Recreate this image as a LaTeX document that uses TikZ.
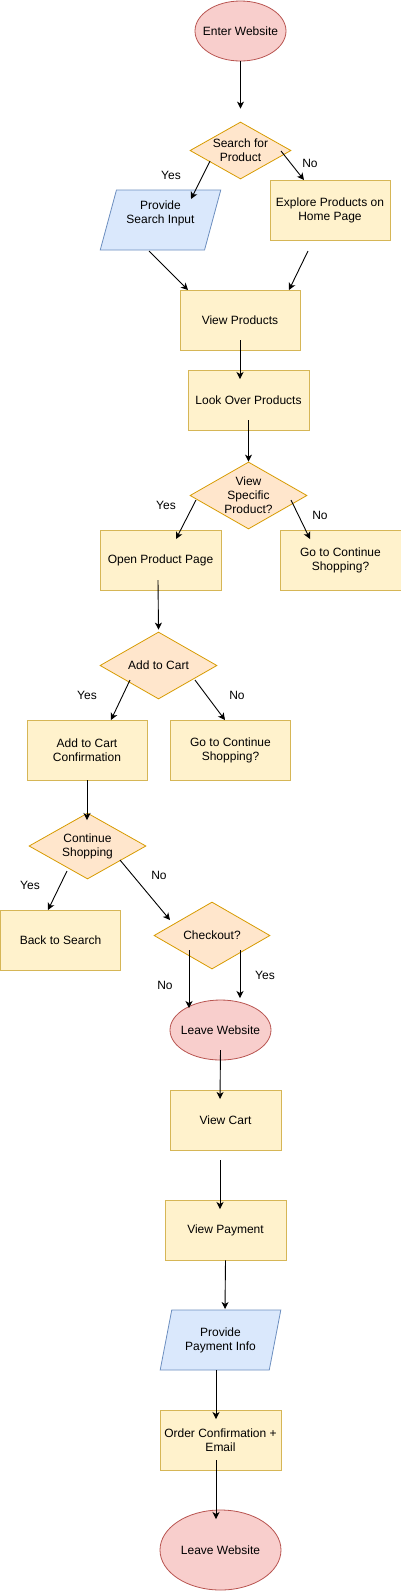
\documentclass[tikz,border=0pt]{standalone}
\usepackage{fontspec}
\setmainfont{Liberation Sans}
\usetikzlibrary{arrows.meta,shapes.geometric}
\definecolor{shopRedFill}{HTML}{F8CECC}
\definecolor{shopRedLine}{HTML}{B85450}
\definecolor{shopOrangeFill}{HTML}{FFE6CC}
\definecolor{shopOrangeLine}{HTML}{D79B00}
\definecolor{shopYellowFill}{HTML}{FFF2CC}
\definecolor{shopYellowLine}{HTML}{D6B656}
\definecolor{shopBlueFill}{HTML}{DAE8FC}
\definecolor{shopBlueLine}{HTML}{6C8EBF}
\tikzset{
  shop text/.style={font=\fontsize{12}{14}\selectfont, align=center, text=black},
  shop end/.style={shop text, ellipse, draw=shopRedLine, fill=shopRedFill, line width=0.8pt, inner sep=-8pt},
  shop box/.style={shop text, rectangle, draw=shopYellowLine, fill=shopYellowFill, line width=0.8pt, minimum width=120pt, minimum height=60pt, inner sep=0pt},
  shop choice/.style={shop text, diamond, draw=shopOrangeLine, fill=shopOrangeFill, line width=0.8pt, inner sep=-8pt, minimum width=117pt, minimum height=67pt},
  shop input/.style={shop text, trapezium, trapezium left angle=71.6, trapezium right angle=108.4, trapezium stretches=true, draw=shopBlueLine, fill=shopBlueFill, line width=0.8pt, minimum width=121pt, minimum height=60pt, inner sep=0pt},
  shop arrow/.style={draw=black, line width=0.9pt, -{Stealth[length=7pt,width=7pt,inset=2pt]}},
  shop label/.style={font=\fontsize{12}{14}\selectfont},
}
\begin{document}
\begin{tikzpicture}[x=1pt,y=-1pt]
  \useasboundingbox (0,0) rectangle (401,1591);
  % steps of the flow
  \node[shop end, minimum width=91pt, minimum height=60pt] (enter) at (240.5,31) {Enter Website};
  \node[shop choice, minimum width=101pt, minimum height=57pt] (search) at (240.5,150.5) {Search for\\Product};
  \node[shop input, text depth=15pt] (provide) at (160.5,220) {Provide\\Search Input};
  \node[shop box] (explore) at (330,210) {Explore Products on\\Home Page};
  \node[shop box] (viewprod) at (240,320) {View Products};
  \node[shop box, minimum width=121pt] (lookover) at (248.5,400) {Look Over Products};
  \node[shop choice] (specific) at (248.5,495.5) {View\\Specific\\Product?};
  \node[shop box, minimum width=121pt] (openpage) at (160.5,560) {Open Product Page};
  \node[shop box, minimum width=121pt] (gocontA) at (340.5,560) {Go to Continue\\Shopping?};
  \node[shop choice] (addcart) at (158.5,665.5) {Add to Cart};
  \node[shop box] (confirm) at (87,750) {Add to Cart\\Confirmation};
  \node[shop box] (gocontB) at (230.5,750) {Go to Continue\\Shopping?};
  \node[shop choice, minimum height=66pt] (contshop) at (87.5,846) {Continue\\Shopping};
  \node[shop box] (backsearch) at (60.5,940) {Back to Search};
  \node[shop choice, minimum width=116pt] (checkout) at (212,935.5) {Checkout?};
  \node[shop end, minimum width=101pt, minimum height=60pt] (leaveA) at (220.5,1030) {Leave Website};
  \node[shop box, minimum width=111pt] (viewcart) at (225.5,1120) {View Cart};
  \node[shop box, minimum width=121pt] (viewpay) at (225.5,1230) {View Payment};
  \node[shop input] (payinfo) at (220.5,1340) {Provide\\Payment Info};
  \node[shop box, minimum width=121pt] (order) at (220.5,1440) {Order Confirmation +\\Email};
  \node[shop end, minimum width=121pt, minimum height=80pt] (leaveB) at (220.5,1550) {Leave Website};
  % answers
  \node[shop label] (yesA) at (171,175) {Yes};
  \node[shop label] (noA) at (310,163) {No};
  \node[shop label] (yesB) at (166,505) {Yes};
  \node[shop label] (noB) at (320,515) {No};
  \node[shop label] (yesC) at (87,695) {Yes};
  \node[shop label] (noC) at (237,695) {No};
  \node[shop label] (yesD) at (30,885) {Yes};
  \node[shop label] (noD) at (159,875) {No};
  \node[shop label] (noE) at (165,985) {No};
  \node[shop label] (yesE) at (265,975) {Yes};
  % connectors
  \draw[shop arrow] (enter.south) -- ([yshift=13pt]search.north);
  \draw[shop arrow] ([shift={(-30.5,10.5)}]search.center) -- ([shift={(30.5,-21)}]provide.center);
  \draw[shop arrow] ([shift={(40.5,0.5)}]search.center) -- ([shift={(-26,-30)}]explore.center);
  \draw[shop arrow] ([shift={(-11.5,31)}]provide.center) -- ([shift={(-52,-30)}]viewprod.center);
  \draw[shop arrow] ([shift={(-22,41)}]explore.center) -- ([shift={(49,-30)}]viewprod.center);
  \draw[shop arrow] ([shift={(0,20)}]viewprod.center) -- ([shift={(-8.5,-21)}]lookover.center);
  \draw[shop arrow] ([shift={(0,20)}]lookover.center) -- (specific.north);
  \draw[shop arrow] ([shift={(-52.5,4.5)}]specific.center) -- ([shift={(15.5,-21)}]openpage.center);
  \draw[shop arrow] ([shift={(42.5,4.5)}]specific.center) -- ([shift={(-30.5,-21)}]gocontA.center);
  \draw[shop arrow] ([shift={(-2.5,20)}]openpage.center) -- ([shift={(0,-2)}]addcart.north);
  \draw[shop arrow] ([shift={(-28.5,14.5)}]addcart.center) -- ([shift={(24,-30)}]confirm.center);
  \draw[shop arrow] ([shift={(36.5,14.5)}]addcart.center) -- ([shift={(-5.5,-30)}]gocontB.center);
  \draw[shop arrow] (confirm.south) -- ([shift={(-0.5,-26)}]contshop.center);
  \draw[shop arrow] ([shift={(-20.5,25)}]contshop.center) -- ([shift={(-12.5,-30)}]backsearch.center);
  \draw[shop arrow] ([shift={(32.5,14)}]contshop.center) -- ([shift={(-42,-15.5)}]checkout.center);
  \draw[shop arrow] ([shift={(-23,14.5)}]checkout.center) -- ([shift={(-31.5,-22)}]leaveA.center);
  \draw[shop arrow] ([shift={(28,14.5)}]checkout.center) -- ([shift={(19.5,-32)}]leaveA.center);
  \draw[shop arrow] ([shift={(0,20)}]leaveA.center) -- ([shift={(-5.5,-21)}]viewcart.center);
  \draw[shop arrow] ([shift={(-5.5,40)}]viewcart.center) -- ([shift={(-5.5,-21)}]viewpay.center);
  \draw[shop arrow] (viewpay.south) -- ([shift={(4.5,-31)}]payinfo.center);
  \draw[shop arrow] ([shift={(-4.5,30)}]payinfo.center) -- ([shift={(-4.5,-21)}]order.center);
  \draw[shop arrow] ([shift={(-4.5,20)}]order.center) -- ([shift={(-4.5,-31)}]leaveB.center);
\end{tikzpicture}
\end{document}
